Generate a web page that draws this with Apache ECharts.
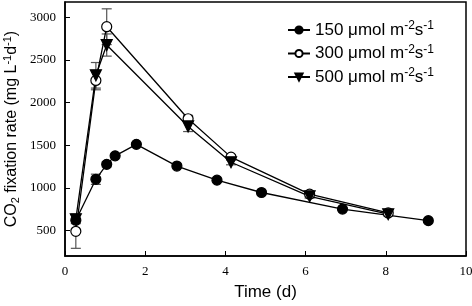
<!DOCTYPE html>
<html>
<head>
<meta charset="utf-8">
<script src="https://cdn.jsdelivr.net/npm/echarts@6/dist/echarts.min.js"></script>
<style>
  html, body { margin: 0; padding: 0; background: #fff; }
  #chart { width: 472px; height: 306px; }
</style>
</head>
<body>
<div id="chart"></div>
<script>
// values
var time150 = [0.27, 0.77, 1.04, 1.25, 1.78, 2.79, 3.79, 4.9, 6.92, 9.06];
var rate150 = [620, 1100, 1275, 1375, 1510, 1255, 1090, 945, 750, 615];
var err150 = [0, 60, 30, 0, 0, 0, 0, 0, 0, 0];

var time300 = [0.27, 0.77, 1.04, 3.07, 4.14, 6.1, 8.06];
var rate300 = [490, 2260, 2890, 1810, 1360, 925, 705];
var err300 = [200, 110, 210, 40, 30, 30, 20];

var time500 = [0.27, 0.77, 1.04, 3.07, 4.14, 6.1, 8.06];
var rate500 = [630, 2320, 2675, 1720, 1300, 900, 690];
var err500 = [50, 150, 130, 60, 30, 20, 20];

var yTicks = [500, 1000, 1500, 2000, 2500, 3000];
var legendNames = ['150', '300', '500'];

function pairs(t, v) {
  return t.map(function (x, i) { return [x, v[i]]; });
}
function errRows(t, v, e) {
  var out = [];
  t.forEach(function (x, i) {
    if (e[i] > 0) out.push([x, v[i] - e[i], v[i] + e[i]]);
  });
  return out;
}

function errSeries(rows) {
  return {
    type: 'custom',
    silent: true,
    z: 1,
    data: rows,
    renderItem: function (params, api) {
      var lo = api.coord([api.value(0), api.value(1)]);
      var hi = api.coord([api.value(0), api.value(2)]);
      var w = 5;
      var st = { stroke: '#555', lineWidth: 1.2 };
      return {
        type: 'group',
        children: [
          { type: 'line', shape: { x1: lo[0], y1: lo[1], x2: hi[0], y2: hi[1] }, style: st },
          { type: 'line', shape: { x1: lo[0] - w, y1: lo[1], x2: lo[0] + w, y2: lo[1] }, style: st },
          { type: 'line', shape: { x1: hi[0] - w, y1: hi[1], x2: hi[0] + w, y2: hi[1] }, style: st }
        ]
      };
    }
  };
}

function lineSeries(name, data, symbol, fill, size, rot) {
  return {
    name: name,
    type: 'line',
    data: data,
    z: 3,
    symbol: symbol,
    symbolSize: size,
    symbolRotate: rot || 0,
    showAllSymbol: true,
    lineStyle: { color: '#000', width: 1.3 },
    itemStyle: { color: fill, borderColor: '#000', borderWidth: 1.2 }
  };
}

var chart = echarts.init(document.getElementById('chart'));
chart.setOption({
  animation: false,
  backgroundColor: '#fff',
  grid: {
    left: 65, right: 6, top: 2, bottom: 50,
    outerBoundsMode: 'none',
    show: true, borderColor: '#000', borderWidth: 1.5
  },
  legend: {
    data: legendNames,
    orient: 'vertical',
    left: 282,
    top: 15,
    itemGap: 5,
    itemWidth: 22,
    itemHeight: 9,
    formatter: function (n) { return n + ' \u03bcmol m{sup|-2}s{sup|-1}'; },
    textStyle: {
      fontFamily: 'Liberation Sans',
      fontSize: 17,
      color: '#000',
      rich: {
        sup: { fontSize: 12, verticalAlign: 'top', padding: [0, 0, 8, 0], fontFamily: 'Liberation Sans', color: '#000' }
      }
    }
  },
  xAxis: {
    type: 'value',
    min: 0, max: 10, interval: 2,
    name: 'Time (d)',
    nameLocation: 'middle',
    nameGap: 28,
    nameMoveOverlap: false,
    nameTextStyle: { fontFamily: 'Liberation Sans', fontSize: 17, color: '#000' },
    axisLine: { lineStyle: { color: '#000', width: 1.5 } },
    axisTick: { inside: true, length: 5, lineStyle: { color: '#000' } },
    axisLabel: { fontFamily: 'Liberation Serif', fontSize: 13, color: '#000', margin: 9 },
    splitLine: { show: false }
  },
  yAxis: {
    type: 'value',
    min: 200, max: 3180,
    name: 'CO{sub|2} fixation rate (mg L{sup|-1}d{sup|-1})',
    nameLocation: 'middle',
    nameGap: 44,
    nameMoveOverlap: false,
    nameTextStyle: {
      fontFamily: 'Liberation Sans', fontSize: 16, color: '#000',
      rich: {
        sub: { fontSize: 11, verticalAlign: 'bottom', padding: [8, 0, 0, 0], fontFamily: 'Liberation Sans', color: '#000' },
        sup: { fontSize: 11, verticalAlign: 'top', padding: [0, 0, 8, 0], fontFamily: 'Liberation Sans', color: '#000' }
      }
    },
    axisLine: { show: true, lineStyle: { color: '#000', width: 1.5 } },
    axisTick: { show: true, inside: true, length: 5, customValues: yTicks, lineStyle: { color: '#000' } },
    axisLabel: {
      customValues: yTicks,
      formatter: function (v) { return String(v); },
      fontFamily: 'Liberation Serif', fontSize: 13, color: '#000', margin: 9
    },
    splitLine: { show: false }
  },
  series: [
    errSeries(errRows(time150, rate150, err150)),
    errSeries(errRows(time300, rate300, err300)),
    errSeries(errRows(time500, rate500, err500)),
    lineSeries('150', pairs(time150, rate150), 'circle', '#000', 10),
    lineSeries('300', pairs(time300, rate300), 'circle', '#fff', 10),
    lineSeries('500', pairs(time500, rate500), 'triangle', '#000', 11, 180)
  ]
});
</script>
</body>
</html>
